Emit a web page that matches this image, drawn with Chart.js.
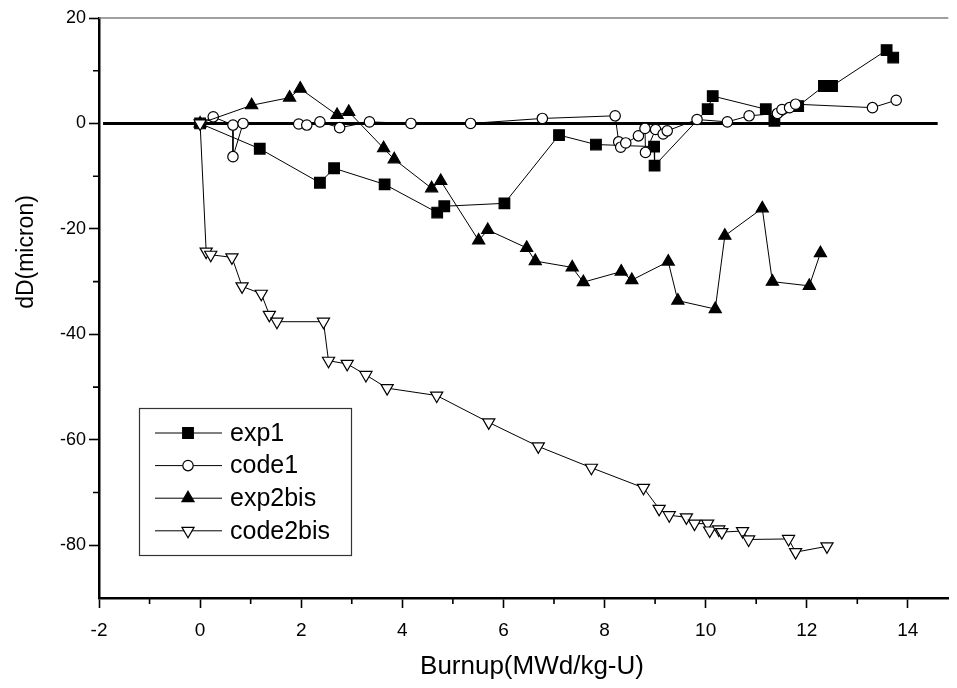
<!DOCTYPE html>
<html>
<head>
<meta charset="utf-8">
<script src="https://cdn.jsdelivr.net/npm/chart.js@4.4.1/dist/chart.umd.min.js"></script>
<style>
  body { margin: 0; background: #fff; }
  #wrap { width: 957px; height: 688px; }
</style>
</head>
<body>
<div id="wrap"><canvas id="dDChart" width="957" height="688"></canvas></div>
<script>
// --- Data (burnup in MWd/kg-U, dD in micron) ---
const exp1X = [0, 1.18, 2.37, 2.65, 3.65, 4.69, 4.83, 6.02, 7.10, 7.83, 8.98, 8.99, 10.04, 10.14, 11.19, 11.36, 11.83, 12.34, 12.50, 13.58, 13.71];
const exp1Y = [0, -4.8, -11.25, -8.5, -11.55, -16.9, -15.7, -15.15, -2.2, -4.0, -4.4, -8.0, 2.7, 5.2, 2.7, 0.5, 3.3, 7.1, 7.1, 13.9, 12.5];

const code1X = [0, 0.26, 0.65, 0.65, 0.85, 1.95, 2.11, 2.37, 2.76, 3.35, 4.17, 5.35, 6.77, 8.21, 8.28, 8.32, 8.42, 8.67, 8.80, 8.81, 9.01, 9.16, 9.24, 9.83, 10.43, 10.86, 11.42, 11.51, 11.66, 11.78, 13.30, 13.77];
const code1Y = [0, 1.25, -0.3, -6.3, 0, -0.1, -0.3, 0.3, -0.8, 0.3, 0, 0, 0.95, 1.45, -3.5, -4.5, -3.7, -2.35, -0.95, -5.5, -1.15, -2.0, -1.4, 0.75, 0.3, 1.45, 1.9, 2.65, 3.0, 3.65, 3.0, 4.4];

const exp2X = [0, 1.02, 1.77, 1.98, 2.71, 2.94, 3.63, 3.84, 4.58, 4.76, 5.51, 5.69, 6.46, 6.63, 7.36, 7.58, 8.33, 8.54, 9.26, 9.45, 10.19, 10.38, 11.12, 11.32, 12.05, 12.27];
const exp2Y = [0, 3.45, 4.9, 6.6, 1.6, 2.2, -4.7, -6.8, -12.3, -10.9, -22.2, -20.2, -23.6, -26.1, -27.3, -30.1, -28.1, -29.7, -26.2, -33.6, -35.2, -21.3, -16.1, -30.0, -30.8, -24.6];

const code2X = [0, 0.12, 0.21, 0.63, 0.83, 1.21, 1.37, 1.52, 2.44, 2.54, 2.91, 3.28, 3.70, 4.68, 5.71, 6.69, 7.74, 8.77, 9.08, 9.28, 9.62, 9.78, 10.04, 10.08, 10.26, 10.32, 10.73, 10.85, 11.64, 11.78, 12.40];
const code2Y = [0, -24.3, -24.9, -25.4, -30.9, -32.3, -36.3, -37.6, -37.6, -45.0, -45.6, -47.7, -50.2, -51.6, -56.7, -61.25, -65.3, -69.1, -73.1, -74.3, -74.7, -75.9, -75.9, -77.2, -77.0, -77.5, -77.3, -78.9, -78.8, -81.3, -80.2];

// thick reference line at dD = 0
const zeroX = [-1.92, 14.59];
const zeroY = [0, 0];

const seriesNames = ["exp1", "code1", "exp2bis", "code2bis"];

// --- Axes ---
const xMajorTicks = [-2, 0, 2, 4, 6, 8, 10, 12, 14];
const xMinorTicks = [-1, 1, 3, 5, 7, 9, 11, 13];
const yMajorTicks = [20, 0, -20, -40, -60, -80];
const yMinorTicks = [10, -10, -30, -50, -70];
const xMin = -2, xMax = 14.8;
const yMin = -90, yMax = 20;

function toPoints(xs, ys) {
  return xs.map((x, i) => ({ x: x, y: ys[i] }));
}

const FONT = "Arial, 'Liberation Sans', sans-serif";

// --- Plugin: minor ticks, top frame line, axis titles, boxed legend ---
const extras = {
  id: "extras",
  afterDraw(chart) {
    const ctx = chart.ctx;
    const area = chart.chartArea;
    const xs = chart.scales.x;
    const ys = chart.scales.y;

    ctx.save();
    // top frame line
    ctx.strokeStyle = "#808080";
    ctx.lineWidth = 1.5;
    ctx.beginPath();
    ctx.moveTo(area.left, area.top);
    ctx.lineTo(area.right, area.top);
    ctx.stroke();

    // minor ticks
    ctx.strokeStyle = "#000";
    ctx.lineWidth = 1.6;
    ctx.beginPath();
    xMinorTicks.forEach(v => {
      const px = xs.getPixelForValue(v);
      ctx.moveTo(px, area.bottom);
      ctx.lineTo(px, area.bottom + 6);
    });
    yMinorTicks.forEach(v => {
      const py = ys.getPixelForValue(v);
      ctx.moveTo(area.left, py);
      ctx.lineTo(area.left - 6, py);
    });
    ctx.stroke();

    // axis titles
    ctx.fillStyle = "#000";
    ctx.textAlign = "center";
    ctx.textBaseline = "middle";
    ctx.font = "26px " + FONT;
    ctx.fillText("Burnup(MWd/kg-U)", 532, 667);
    ctx.font = "23px " + FONT;
    ctx.translate(27, 252);
    ctx.rotate(-Math.PI / 2);
    ctx.fillText("dD(micron)", 0, 0);
    ctx.restore();

    // legend box
    ctx.save();
    ctx.strokeStyle = "#333";
    ctx.lineWidth = 1.2;
    ctx.strokeRect(139.5, 408.5, 212, 147);
    ctx.font = "25px " + FONT;
    ctx.textAlign = "left";
    ctx.textBaseline = "middle";
    seriesNames.forEach((name, i) => {
      const ds = chart.data.datasets[i];
      const y = 433 + i * 32.6;
      ctx.strokeStyle = "#000";
      ctx.lineWidth = 1;
      ctx.beginPath();
      ctx.moveTo(155, y);
      ctx.lineTo(222, y);
      ctx.stroke();
      ctx.fillStyle = ds.pointBackgroundColor;
      ctx.strokeStyle = ds.pointBorderColor;
      ctx.lineWidth = ds.pointBorderWidth;
      Chart.helpers.drawPoint(ctx, {
        pointStyle: ds.pointStyle,
        rotation: ds.pointRotation || 0,
        radius: ds.pointRadius,
        borderWidth: ds.pointBorderWidth
      }, 188, y);
      ctx.fillStyle = "#000";
      ctx.fillText(name, 230, y + 1);
    });
    ctx.restore();
  }
};

function series(name, xs, ys, style, fill, radius, rotation, order) {
  return {
    label: name,
    data: toPoints(xs, ys),
    showLine: true,
    borderColor: "#000",
    borderWidth: 1,
    pointStyle: style,
    pointRotation: rotation,
    pointRadius: radius,
    pointBackgroundColor: fill,
    pointBorderColor: "#000",
    pointBorderWidth: 1.2,
    order: order
  };
}

const ctx = document.getElementById("dDChart").getContext("2d");
new Chart(ctx, {
  type: "scatter",
  data: {
    datasets: [
      series("exp1", exp1X, exp1Y, "rect", "#000", 7.5, 0, 4),
      series("code1", code1X, code1Y, "circle", "#fff", 5.2, 0, 3),
      series("exp2bis", exp2X, exp2Y, "triangle", "#000", 7, 0, 2),
      series("code2bis", code2X, code2Y, "triangle", "#fff", 7, 180, 1),
      {
        label: "zero",
        data: toPoints(zeroX, zeroY),
        showLine: true,
        borderColor: "#000",
        borderWidth: 3,
        pointRadius: 0,
        order: 5
      }
    ]
  },
  options: {
    responsive: false,
    animation: false,
    events: [],
    devicePixelRatio: 1,
    layout: { padding: { top: 18, right: 2, left: 0, bottom: 0 } },
    plugins: {
      legend: { display: false },
      tooltip: { enabled: false }
    },
    scales: {
      x: {
        type: "linear",
        min: xMin,
        max: xMax,
        afterBuildTicks: s => { s.ticks = xMajorTicks.map(v => ({ value: v })); },
        afterFit: s => { s.height = 90; },
        grid: { drawOnChartArea: false, tickLength: 10, tickColor: "#000", tickWidth: 1.6 },
        border: { color: "#000", width: 2.5 },
        ticks: { color: "#000", padding: 11, maxRotation: 0, font: { size: 19, family: FONT } }
      },
      y: {
        type: "linear",
        min: yMin,
        max: yMax,
        afterBuildTicks: s => { s.ticks = yMajorTicks.map(v => ({ value: v })); },
        afterFit: s => { s.width = 99; },
        grid: { drawOnChartArea: false, tickLength: 10, tickColor: "#000", tickWidth: 1.6 },
        border: { color: "#000", width: 2.5 },
        ticks: { color: "#000", padding: 3, font: { size: 18, family: FONT } }
      }
    }
  },
  plugins: [extras]
});
</script>
</body>
</html>
